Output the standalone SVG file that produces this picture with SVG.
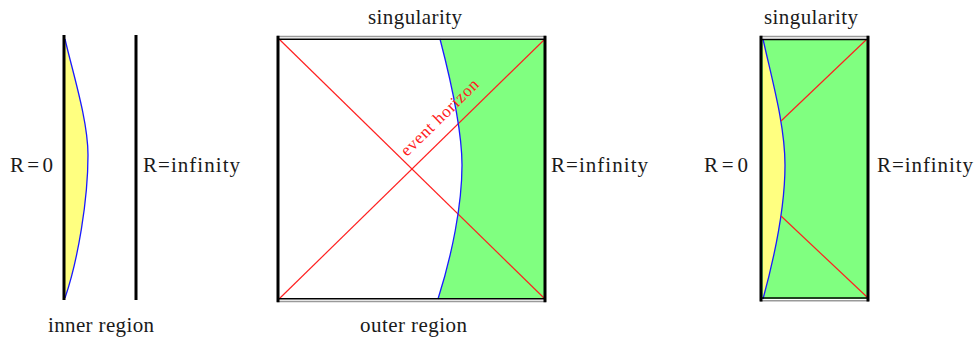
<svg xmlns="http://www.w3.org/2000/svg" width="975" height="338" viewBox="0 0 975 338">
<style>
text{font-family:'Liberation Serif','Times New Roman',serif;font-size:21px;fill:#1a1a1a}
.eh{font-size:17px;fill:#ff2020}
.edge{stroke:#000;stroke-width:3;fill:none}
.gray{stroke:#9a9a9a;stroke-width:1.6;fill:none}
.thin{stroke:#000;stroke-width:1.6;fill:none}
.red{stroke:#ff2020;stroke-width:1.2;fill:none}
.blue{stroke:#1a1aff;stroke-width:1.3;fill:none}
.yellow{fill:#ffff80}
.green{fill:#80ff80}
</style>
<rect width="975" height="338" fill="#fff"/>
<g id="inner-region">
<path class="yellow" d="M65,39 C72,70 88,120 88,155 C88,200 78,260 65,298 Z"/>
<path class="blue" d="M65,39 C72,70 88,120 88,155 C88,200 78,260 65,298"/>
<line class="edge" x1="64" y1="35" x2="64" y2="300"/>
<line class="edge" x1="136" y1="35" x2="136" y2="300"/>
<text x="10" y="172" textLength="43">R=0</text>
<text x="143" y="172" textLength="97">R=infinity</text>
<text x="48" y="332" textLength="106">inner region</text>
</g>
<g id="outer-region">
<path class="green" d="M440,39 C452,85 462,130 462,165 C462,205 452,255 438,299 L545,299 L545,39 Z"/>
<line class="red" x1="279" y1="39" x2="545" y2="299"/>
<line class="red" x1="279" y1="299" x2="545" y2="39"/>
<path class="blue" d="M440,39 C452,85 462,130 462,165 C462,205 452,255 438,299"/>
<line class="gray" x1="277" y1="36.5" x2="546" y2="36.5"/>
<line class="thin" x1="277" y1="39.3" x2="546" y2="39.3"/>
<line class="thin" x1="277" y1="298.7" x2="546" y2="298.7"/>
<line class="gray" x1="277" y1="301.5" x2="546" y2="301.5"/>
<line class="edge" x1="278" y1="35.7" x2="278" y2="302.3"/>
<line class="edge" x1="545" y1="35.7" x2="545" y2="302.3"/>
<text class="eh" transform="translate(407,157) rotate(-44.4)" textLength="102">event horizon</text>
<text x="368" y="24" textLength="94">singularity</text>
<text x="551" y="172" textLength="97">R=infinity</text>
<text x="360" y="332" textLength="107">outer region</text>
</g>
<g id="combined">
<rect class="green" x="761" y="39" width="107" height="260"/>
<path class="yellow" d="M763,39 C772,80 785,125 785,165 C785,205 775,255 763,299 Z"/>
<path class="blue" d="M763,39 C772,80 785,125 785,165 C785,205 775,255 763,299"/>
<line class="red" x1="866" y1="40" x2="781" y2="121"/>
<line class="red" x1="781" y1="216" x2="867" y2="297"/>
<line class="gray" x1="760" y1="36.5" x2="869" y2="36.5"/>
<line class="thin" x1="760" y1="39.5" x2="869" y2="39.5"/>
<line class="thin" x1="760" y1="298" x2="869" y2="298"/>
<line class="gray" x1="760" y1="300.8" x2="869" y2="300.8"/>
<line class="edge" x1="761" y1="35.7" x2="761" y2="301.5"/>
<line class="edge" x1="868" y1="35.7" x2="868" y2="301.5"/>
<text x="764" y="24" textLength="94">singularity</text>
<text x="704" y="172" textLength="44">R=0</text>
<text x="877" y="172" textLength="96">R=infinity</text>
</g>
</svg>
